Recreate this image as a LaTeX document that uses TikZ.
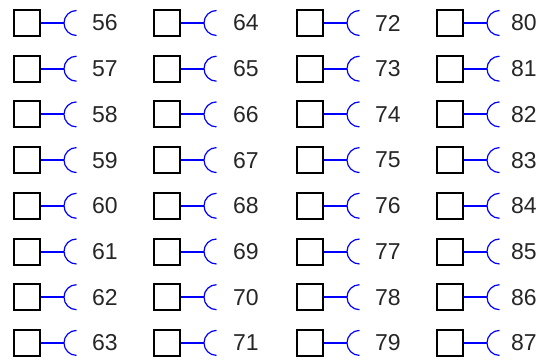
\documentclass[tikz,border=0pt]{standalone}
\usepackage{fontspec}
\setmainfont{Liberation Sans}
\begin{document}
\begin{tikzpicture}[x=1pt,y=-1pt,
 boxst/.style={draw=black,line width=2pt,minimum size=26pt,inner sep=0pt,anchor=west},
 lab/.style={font=\fontsize{23}{23}\selectfont,inner sep=0pt,anchor=west,text=black!85},
 wire/.style={draw=blue,line width=2pt},
 cup/.style={draw=blue,line width=1.2pt}]
\useasboundingbox (0,0) rectangle (541,361);
\foreach \c/\bx/\tx in {0/12/92,1/152/233,2/295/375,3/435/511}{
 \foreach \r in {0,...,7}{
   \pgfmathtruncatemacro\n{56+8*\c+\r}
   \pgfmathsetmacro\yy{23+45.7*\r}
   \node[boxst] (b\n) at (\bx+1,\yy) {};
   \coordinate (a\n) at (\bx+52,\yy);
   \draw[wire] (b\n.east) -- (a\n);
   \draw[cup] ([yshift=12.5pt,xshift=12.5pt]a\n) arc[start angle=90,end angle=270,radius=12.5pt];
   \node[lab] (t\n) at (\tx,\yy) {\n};
 }}
\end{tikzpicture}
\end{document}
